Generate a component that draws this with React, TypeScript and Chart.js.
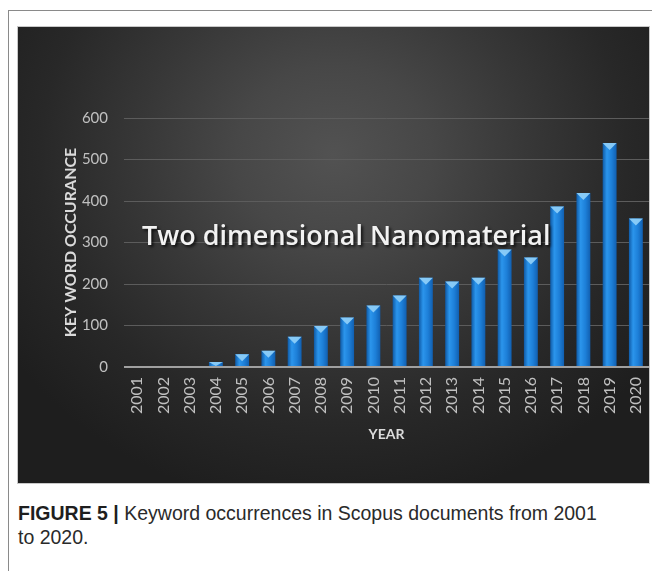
import React, { useEffect, useRef } from "react";
import { Chart, registerables } from "chart.js";

Chart.register(...registerables);

const YEARS = ["2001","2002","2003","2004","2005","2006","2007","2008","2009","2010","2011","2012","2013","2014","2015","2016","2017","2018","2019","2020"];
const OCCURRENCES = [0, 0, 0, 12, 31, 39, 73, 99, 119, 148, 172, 215, 206, 215, 283, 264, 387, 419, 540, 358];
const Y_TICKS = [0, 100, 200, 300, 400, 500, 600];
const CHART_TITLE = "Two dimensional Nanomaterial";
const Y_TITLE = "KEY WORD OCCURANCE";
const X_TITLE = "YEAR";

const BAR_PCT = 0.53;

const capPlugin = {
  id: "barCaps",
  afterDatasetsDraw(chart: any) {
    const { ctx } = chart;
    const meta = chart.getDatasetMeta(0);
    ctx.save();
    meta.data.forEach((el: any) => {
      const p = el.getProps(["x", "y", "base", "width"], true);
      const h = Math.min(7, p.base - p.y);
      if (h <= 0) return;
      ctx.beginPath();
      ctx.moveTo(p.x - p.width / 2, p.y);
      ctx.lineTo(p.x + p.width / 2, p.y);
      ctx.lineTo(p.x, p.y + h);
      ctx.closePath();
      ctx.fillStyle = "rgba(140,205,248,0.95)";
      ctx.fill();
    });
    ctx.restore();
  },
};

const titlePlugin = {
  id: "overlayTitle",
  afterDatasetsDraw(chart: any) {
    const { ctx } = chart;
    const xs = chart.scales.x;
    const ys = chart.scales.y;
    ctx.save();
    ctx.font = '600 27px "Open Sans"';
    ctx.fillStyle = "#f2f2f2";
    ctx.shadowColor = "rgba(0,0,0,0.75)";
    ctx.shadowOffsetX = 2;
    ctx.shadowOffsetY = 2;
    ctx.shadowBlur = 3;
    ctx.textBaseline = "alphabetic";
    ctx.textAlign = "left";
    ctx.fillText(CHART_TITLE, xs.left + 18, ys.getPixelForValue(300) + 2);
    ctx.restore();
  },
};

export default function App() {
  const ref = useRef<HTMLCanvasElement | null>(null);

  useEffect(() => {
    if (!ref.current) return;
    const chart = new Chart(ref.current, {
      type: "bar",
      data: {
        labels: YEARS,
        datasets: [
          {
            data: OCCURRENCES,
            barPercentage: BAR_PCT,
            categoryPercentage: 1,
            borderWidth: 0,
            backgroundColor: (c: any) => {
              const chart = c.chart;
              const xs = chart.scales.x;
              if (!chart.chartArea || !xs) return "#1f80d8";
              const cx = xs.getPixelForValue(c.dataIndex);
              const w = (xs.width / YEARS.length) * BAR_PCT;
              const g = chart.ctx.createLinearGradient(cx - w / 2, 0, cx + w / 2, 0);
              g.addColorStop(0, "#0f5aa6");
              g.addColorStop(0.3, "#2b95ec");
              g.addColorStop(0.65, "#1d7fd8");
              g.addColorStop(1, "#115fb0");
              return g;
            },
          },
        ],
      },
      options: {
        responsive: false,
        animation: false,
        maintainAspectRatio: false,
        layout: { padding: { top: 91, right: 0, left: 0, bottom: 0 } },
        plugins: {
          legend: { display: false },
          tooltip: { enabled: false },
          title: { display: false },
        },
        scales: {
          x: {
            grid: { display: false, drawTicks: false },
            border: { display: false },
            ticks: {
              color: "#c0c0c0",
              font: { size: 16, family: "Lato" },
              minRotation: 90,
              maxRotation: 90,
              autoSkip: false,
              padding: 10,
            },
            title: {
              display: true,
              text: X_TITLE,
              color: "#dadada",
              font: { size: 14, family: "Lato", weight: "bold" },
              padding: { top: 0, bottom: 40 },
            },
            afterFit: (s: any) => {
              s.height = 116;
              s.paddingLeft = 0;
              s.paddingRight = 0;
            },
          },
          y: {
            min: 0,
            max: 600,
            afterBuildTicks: (s: any) => {
              s.ticks = Y_TICKS.map((v) => ({ value: v }));
            },
            grid: {
              drawTicks: false,
              color: (c: any) => (c.tick && c.tick.value === 0 ? "#a0a0a0" : "#5c5c5c"),
              lineWidth: (c: any) => (c.tick && c.tick.value === 0 ? 2 : 1),
            },
            border: { display: false },
            ticks: {
              color: "#c0c0c0",
              font: { size: 15, family: "Lato" },
              padding: 16,
            },
            title: {
              display: true,
              text: Y_TITLE,
              color: "#dadada",
              font: { size: 16, family: "Lato", weight: "bold" },
              padding: { top: 43, bottom: 0 },
            },
            afterFit: (s: any) => {
              s.width = 106;
              s.paddingTop = 0;
              s.paddingBottom = 0;
            },
          },
        },
      },
      plugins: [capPlugin, titlePlugin],
    });
    return () => chart.destroy();
  }, []);

  return (
    <div
      style={{
        position: "fixed",
        left: 8,
        top: 10,
        right: 0,
        bottom: 0,
        borderTop: "1px solid #8a8a8a",
        borderLeft: "1px solid #8a8a8a",
        background: "#fff",
      }}
    >
      <div
        style={{
          position: "absolute",
          left: 8,
          top: 15,
          width: 633,
          height: 458,
          boxSizing: "border-box",
          border: "1px solid #c8c8c8",
          background:
            "radial-gradient(ellipse 62% 78% at 50% 28%, #525252 0%, #474747 25%, #373737 50%, #282828 75%, #1e1e1e 100%)",
        }}
      >
        <canvas ref={ref} width={631} height={456} style={{ display: "block", width: 631, height: 456 }} />
      </div>
      <div
        style={{
          position: "absolute",
          left: 9,
          top: 490,
          width: 630,
          fontFamily: '"Liberation Sans", Arial, sans-serif',
          fontSize: 19.5,
          lineHeight: "24px",
          color: "#2a2a2a",
        }}
      >
        <span style={{ fontWeight: "bold", color: "#1e1e1e" }}>FIGURE 5 |</span> Keyword occurrences in Scopus documents from 2001
        <br />
        to 2020.
      </div>
    </div>
  );
}
